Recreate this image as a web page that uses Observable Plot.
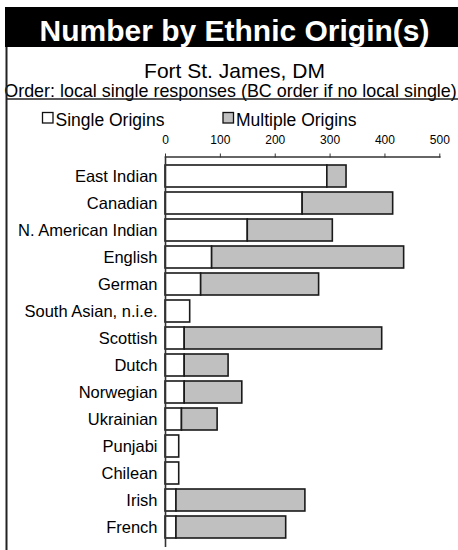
<!DOCTYPE html>
<html><head><meta charset="utf-8">
<script src="https://cdn.jsdelivr.net/npm/d3@7"></script>
<script src="https://cdn.jsdelivr.net/npm/@observablehq/plot@0.6"></script>
<style>body{margin:0;background:#fff;}</style>
</head><body><div id="chart"></div>
<script>
const origins = ["East Indian","Canadian","N. American Indian","English","German","South Asian, n.i.e.","Scottish","Dutch","Norwegian","Ukrainian","Punjabi","Chilean","Irish","French"];
const singleOrigins = [295,250,150,85,65,45,35,35,35,30,25,25,20,20];
const multipleOrigins = [35,165,155,350,215,0,360,80,105,65,0,0,235,200];
const xTicks = [0,100,200,300,400,500];
const seriesNames = ["Single Origins","Multiple Origins"];
const seriesColors = ["#ffffff","#c0c0c0"];
const titleText = "Number by Ethnic Origin(s)";
const subtitleText = "Fort St. James, DM";
const noteText = "Order: local single responses (BC order if no local single)";

const rows = [];
origins.forEach((o, i) => {
  rows.push({origin: o, type: seriesNames[0], value: singleOrigins[i]});
  if (multipleOrigins[i] > 0) rows.push({origin: o, type: seriesNames[1], value: multipleOrigins[i]});
});

const FONT = "'Liberation Sans', Arial, Helvetica, sans-serif";

const chart = Plot.plot({
  width: 458, height: 550,
  marginTop: 156.5, marginLeft: 165, marginRight: 18.7, marginBottom: 2.9,
  style: {fontFamily: FONT, background: "transparent", color: "black"},
  x: {domain: [0, 500]},
  y: {domain: origins, paddingInner: 0.175, paddingOuter: 0.09},
  color: {domain: seriesNames, range: seriesColors},
  marks: [
    Plot.barX(rows, {y: "origin", x: "value", fill: "type", stroke: "#1a1a1a", strokeWidth: 1.6}),
    Plot.frame({anchor: "top", stroke: "#333", strokeWidth: 1.5}),
    Plot.ruleX([0], {stroke: "#333", strokeWidth: 1.6}),
    Plot.axisX({anchor: "top", ticks: xTicks, tickSize: 4, tickPadding: 9, fontSize: 12, label: null, stroke: "#333"}),
    Plot.axisY({tickSize: 0, tickPadding: 8, fontSize: 16.5, label: null})
  ]
});

const svg = d3.select(chart);
const g = svg.insert("g", ":first-child").attr("font-family", FONT);
g.append("rect").attr("x", 5).attr("y", 7).attr("width", 453).attr("height", 40).attr("fill", "black");
g.append("text").attr("x", 234.5).attr("y", 41).attr("text-anchor", "middle").attr("fill", "white")
  .attr("font-weight", "bold").attr("font-size", 30).text(titleText);
g.append("text").attr("x", 234.5).attr("y", 78).attr("text-anchor", "middle").attr("fill", "black")
  .attr("font-size", 21).text(subtitleText);
g.append("text").attr("x", 230.5).attr("y", 96.5).attr("text-anchor", "middle").attr("fill", "black")
  .attr("font-size", 17.9).text(noteText);
g.append("line").attr("x1", 6.5).attr("y1", 47).attr("x2", 6.5).attr("y2", 550).attr("stroke", "#222").attr("stroke-width", 2);
g.append("line").attr("x1", 6.5).attr("y1", 99).attr("x2", 458).attr("y2", 99).attr("stroke", "#222").attr("stroke-width", 1.5);
const legendX = [42.5, 223];
seriesNames.forEach((name, i) => {
  g.append("rect").attr("x", legendX[i]).attr("y", 112.5).attr("width", 10.5).attr("height", 10.5)
    .attr("fill", seriesColors[i]).attr("stroke", "#111").attr("stroke-width", 1.3);
  g.append("text").attr("x", legendX[i] + 13).attr("y", 126).attr("fill", "black")
    .attr("text-anchor", "start").attr("font-size", 17.5).text(name);
});

document.getElementById("chart").appendChild(chart);
</script>
</body></html>
